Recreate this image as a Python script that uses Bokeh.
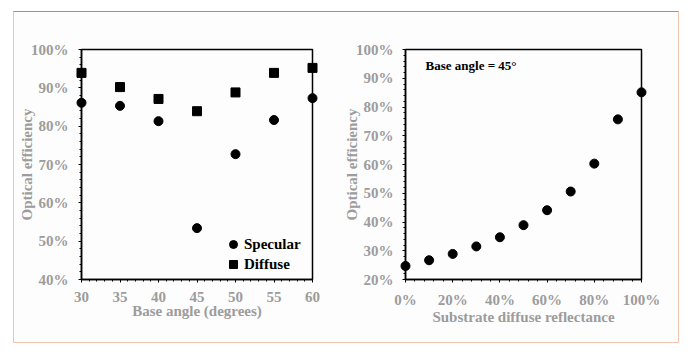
from bokeh.plotting import figure
from bokeh.layouts import row
from bokeh.models import NumeralTickFormatter, FixedTicker, Range1d, Legend, LegendItem, Label
from bokeh.embed import file_html
from bokeh.resources import INLINE

# ---- data ----
angles = [30, 35, 40, 45, 50, 55, 60]
specular = [0.861, 0.853, 0.813, 0.534, 0.727, 0.816, 0.873]
diffuse = [0.939, 0.902, 0.871, 0.839, 0.888, 0.939, 0.952]

reflectance = [0.0, 0.1, 0.2, 0.3, 0.4, 0.5, 0.6, 0.7, 0.8, 0.9, 1.0]
efficiency45 = [0.247, 0.267, 0.289, 0.315, 0.347, 0.389, 0.441, 0.506, 0.603, 0.757, 0.851]

left_xticks = [30, 35, 40, 45, 50, 55, 60]
left_yticks = [0.4, 0.5, 0.6, 0.7, 0.8, 0.9, 1.0]
right_xticks = [0.0, 0.2, 0.4, 0.6, 0.8, 1.0]
right_yticks = [0.2, 0.3, 0.4, 0.5, 0.6, 0.7, 0.8, 0.9, 1.0]

FONT = "Liberation Serif"
GRAY = "#9c9c9c"
BG = "#fdfdfd"


def style(p):
    p.background_fill_color = BG
    p.border_fill_color = BG
    p.outline_line_color = "black"
    p.outline_line_width = 1.5
    p.xgrid.visible = False
    p.ygrid.visible = False
    for ax in (p.xaxis[0], p.yaxis[0]):
        ax.axis_line_color = "black"
        ax.axis_line_width = 1.5
        ax.major_tick_line_color = "black"
        ax.minor_tick_line_color = "black"
        ax.major_tick_in = 0
        ax.major_tick_out = 3
        ax.minor_tick_in = 0
        ax.minor_tick_out = 2
        ax.major_label_text_font = FONT
        ax.major_label_text_font_style = "bold"
        ax.major_label_text_font_size = "15px"
        ax.major_label_text_color = GRAY
        ax.axis_label_text_font = FONT
        ax.axis_label_text_font_style = "bold"
        ax.axis_label_text_font_size = "15px"
        ax.axis_label_text_color = GRAY
    p.xaxis[0].major_label_standoff = 9
    p.xaxis[0].axis_label_standoff = -2


# ---- left panel ----
p1 = figure(width=322, height=330, output_backend="svg", toolbar_location=None,
            x_range=Range1d(30, 60), y_range=Range1d(0.4, 1.0),
            min_border_left=67, min_border_right=24, min_border_top=36, min_border_bottom=62)
style(p1)
p1.xaxis.ticker = FixedTicker(ticks=left_xticks, minor_ticks=list(range(30, 61)))
p1.yaxis.ticker = FixedTicker(ticks=left_yticks, minor_ticks=[0.4 + 0.02 * i for i in range(31)])
p1.yaxis.formatter = NumeralTickFormatter(format="0%")
p1.xaxis.axis_label = "Base angle (degrees)"
p1.yaxis.axis_label = "Optical efficiency"
p1.yaxis.major_label_standoff = 10
p1.yaxis.axis_label_standoff = -7

r_spec = p1.scatter(angles, specular, marker="circle", size=9, color="black", level="overlay")
r_diff = p1.scatter(angles, diffuse, marker="square", size=9, color="black", level="overlay")

legend = Legend(items=[LegendItem(label="Specular", renderers=[r_spec]),
                       LegendItem(label="Diffuse", renderers=[r_diff])],
                location=(141, 5), background_fill_alpha=0, border_line_color=None,
                padding=0, margin=0, spacing=0, label_standoff=-3,
                glyph_width=22, glyph_height=20, label_height=19,
                label_text_font=FONT, label_text_font_style="bold",
                label_text_font_size="15px", label_text_color="black")
p1.add_layout(legend)

# ---- right panel ----
p2 = figure(width=342, height=330, output_backend="svg", toolbar_location=None,
            x_range=Range1d(0, 1), y_range=Range1d(0.2, 1.0),
            min_border_left=69, min_border_right=37, min_border_top=37, min_border_bottom=63)
style(p2)
p2.xaxis.ticker = FixedTicker(ticks=right_xticks, minor_ticks=[0.04 * i for i in range(26)])
p2.yaxis.ticker = FixedTicker(ticks=right_yticks, minor_ticks=[0.2 + 0.02 * i for i in range(41)])
p2.xaxis.formatter = NumeralTickFormatter(format="0%")
p2.yaxis.formatter = NumeralTickFormatter(format="0%")
p2.xaxis.axis_label = "Substrate diffuse reflectance"
p2.yaxis.axis_label = "Optical efficiency"
p2.yaxis.major_label_standoff = 9
p2.yaxis.axis_label_standoff = -7

p2.scatter(reflectance, efficiency45, marker="circle", size=9, color="black", level="overlay")
p2.add_layout(Label(x=0.085, y=0.944, text="Base angle = 45°", text_font=FONT,
                    text_font_style="bold", text_font_size="13px", text_color="black",
                    text_baseline="middle"))

layout = row(p1, p2, margin=(11, 0, 0, 13),
             styles={"border": "1px solid #f3c3b0", "border-top": "1px solid #e07a58",
                     "background-color": BG})

open("out.html", "w").write(file_html(layout, INLINE))
